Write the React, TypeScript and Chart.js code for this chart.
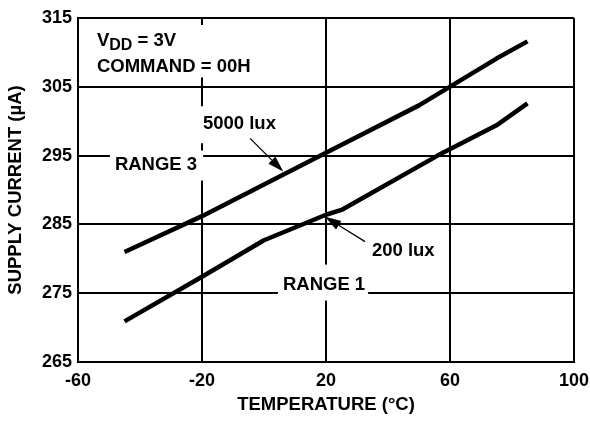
import React, { useEffect, useRef } from "react";
import { Chart, registerables } from "chart.js";

Chart.register(...registerables);

// Data
const temps5000 = [-45, -20, 20, 50, 75, 85];
const current5000 = [281, 286.2, 295.4, 302.3, 309.1, 311.6];
const temps200 = [-45, -20, 0, 20, 25, 56, 75, 85];
const current200 = [270.9, 277.4, 282.7, 286.4, 287.1, 295, 299.4, 302.6];

const xTicks = [-60, -20, 20, 60, 100];
const yTicks = [265, 275, 285, 295, 305, 315];

const FONT = "'Liberation Sans', Arial, Helvetica, sans-serif";
const TXT = 18.5;

// annotation labels (positions in data units)
const labels = [
  { text: "5000 lux", x: -19.7, y: 299.7, pad: [5, 5, 10, 13] },
  { text: "RANGE 3", x: -48.1, y: 293.85, pad: [5, 6, 6, 10] },
  { text: "RANGE 1", x: 6.1, y: 276.4, pad: [5, 3, 12, 10] },
  { text: "200 lux", x: 34.8, y: 281.35, pad: [4, 4, 4, 4] },
];
const arrows = [
  { from: [-4.5, 297.5], to: [6.2, 292.7] },
  { from: [32.6, 282.5], to: [19.7, 286.1] },
];
const header = { x: -53.9, y1: 311.8, y2: 308.1 };

const annotPlugin = {
  id: "annot",
  beforeDatasetsDraw(chart: any) {
    const ctx = chart.ctx as CanvasRenderingContext2D;
    const xs = chart.scales.x;
    const ys = chart.scales.y;
    ctx.save();
    ctx.font = `bold ${TXT}px ${FONT}`;
    ctx.textBaseline = "middle";
    ctx.textAlign = "left";
    {
      const left = xs.getPixelForValue(header.x);
      const top = ys.getPixelForValue(header.y1) - 15;
      const bottom = ys.getPixelForValue(header.y2) + 12;
      ctx.fillStyle = "#fff";
      ctx.fillRect(left - 5, top, 162, bottom - top);
    }
    for (const l of labels) {
      const px = xs.getPixelForValue(l.x);
      const py = ys.getPixelForValue(l.y);
      const w = ctx.measureText(l.text).width;
      const [pl, pr, pt, pb] = l.pad;
      ctx.fillStyle = "#fff";
      ctx.fillRect(px - pl, py - 7 - pt, w + pl + pr, 14 + pt + pb);
      ctx.fillStyle = "#000";
      ctx.fillText(l.text, px, py + 1);
    }
    const hx = xs.getPixelForValue(header.x);
    const hy1 = ys.getPixelForValue(header.y1);
    const hy2 = ys.getPixelForValue(header.y2);
    ctx.fillStyle = "#000";
    ctx.font = `bold ${TXT}px ${FONT}`;
    ctx.fillText("V", hx, hy1 + 1);
    let cx = hx + ctx.measureText("V").width;
    ctx.font = `bold 16px ${FONT}`;
    ctx.fillText("DD", cx, hy1 + 6);
    cx += ctx.measureText("DD").width;
    ctx.font = `bold ${TXT}px ${FONT}`;
    ctx.fillText(" = 3V", cx, hy1 + 1);
    ctx.fillText("COMMAND = 00H", hx, hy2 + 1);
    ctx.restore();
  },
  afterDatasetsDraw(chart: any) {
    const ctx = chart.ctx as CanvasRenderingContext2D;
    const xs = chart.scales.x;
    const ys = chart.scales.y;
    ctx.save();
    ctx.strokeStyle = "#000";
    ctx.fillStyle = "#000";
    for (const a of arrows) {
      const x1 = xs.getPixelForValue(a.from[0]);
      const y1 = ys.getPixelForValue(a.from[1]);
      const x2 = xs.getPixelForValue(a.to[0]);
      const y2 = ys.getPixelForValue(a.to[1]);
      const ang = Math.atan2(y2 - y1, x2 - x1);
      const hl = 16;
      const hw = 5;
      const bx = x2 - hl * Math.cos(ang);
      const by = y2 - hl * Math.sin(ang);
      ctx.lineWidth = 1.3;
      ctx.beginPath();
      ctx.moveTo(x1, y1);
      ctx.lineTo(bx, by);
      ctx.stroke();
      ctx.beginPath();
      ctx.moveTo(x2, y2);
      ctx.lineTo(bx + hw * Math.sin(ang), by - hw * Math.cos(ang));
      ctx.lineTo(bx - hw * Math.sin(ang), by + hw * Math.cos(ang));
      ctx.closePath();
      ctx.fill();
    }
    ctx.restore();
  },
};

export default function App() {
  const ref = useRef<HTMLCanvasElement | null>(null);
  useEffect(() => {
    document.body.style.margin = "0";
    if (!ref.current) return;
    const mk = (xs: number[], ys: number[]) => xs.map((x, i) => ({ x, y: ys[i] }));
    const chart = new Chart(ref.current, {
      type: "line",
      data: {
        datasets: [
          {
            data: mk(temps5000, current5000),
            borderColor: "#000",
            borderWidth: 4.5,
            pointRadius: 0,
            tension: 0,
            borderCapStyle: "butt",
            borderJoinStyle: "round",
          },
          {
            data: mk(temps200, current200),
            borderColor: "#000",
            borderWidth: 4.5,
            pointRadius: 0,
            tension: 0,
            borderCapStyle: "butt",
            borderJoinStyle: "round",
          },
        ],
      },
      options: {
        animation: false,
        responsive: true,
        maintainAspectRatio: false,
        layout: { padding: { top: 18, right: 16, left: 0, bottom: 0 } },
        plugins: { legend: { display: false }, tooltip: { enabled: false } },
        scales: {
          x: {
            type: "linear",
            min: -60,
            max: 100,
            afterBuildTicks: (s: any) => {
              s.ticks = xTicks.map((v) => ({ value: v }));
            },
            afterFit: (s: any) => {
              s.height = 59;
              s.paddingRight = 12;
              s.paddingLeft = 0;
            },
            grid: { color: "#000", lineWidth: 2, drawTicks: false },
            border: { display: true, color: "#000", width: 2 },
            ticks: {
              color: "#000",
              padding: 8,
              maxRotation: 0,
              font: { family: FONT, size: 18, weight: "bold" },
            },
            title: {
              display: true,
              text: "TEMPERATURE (°C)",
              color: "#000",
              padding: { top: 0, bottom: 5 },
              font: { family: FONT, size: TXT, weight: "bold" },
            },
          },
          y: {
            type: "linear",
            min: 265,
            max: 315,
            afterBuildTicks: (s: any) => {
              s.ticks = yTicks.map((v) => ({ value: v }));
            },
            afterFit: (s: any) => {
              s.width = 78;
              s.paddingTop = 0;
              s.paddingBottom = 0;
            },
            grid: { color: "#000", lineWidth: 2, drawTicks: false },
            border: { display: true, color: "#000", width: 2 },
            ticks: {
              color: "#000",
              padding: 6,
              font: { family: FONT, size: 18, weight: "bold" },
            },
            title: {
              display: true,
              text: "SUPPLY CURRENT (µA)",
              color: "#000",
              padding: { top: 5, bottom: 0 },
              font: { family: FONT, size: TXT, weight: "bold" },
            },
          },
        },
      },
      plugins: [annotPlugin],
    } as any);
    return () => chart.destroy();
  }, []);
  return (
    <div style={{ position: "absolute", left: 0, top: 0, width: 590, height: 421 }}>
      <canvas ref={ref} />
    </div>
  );
}
